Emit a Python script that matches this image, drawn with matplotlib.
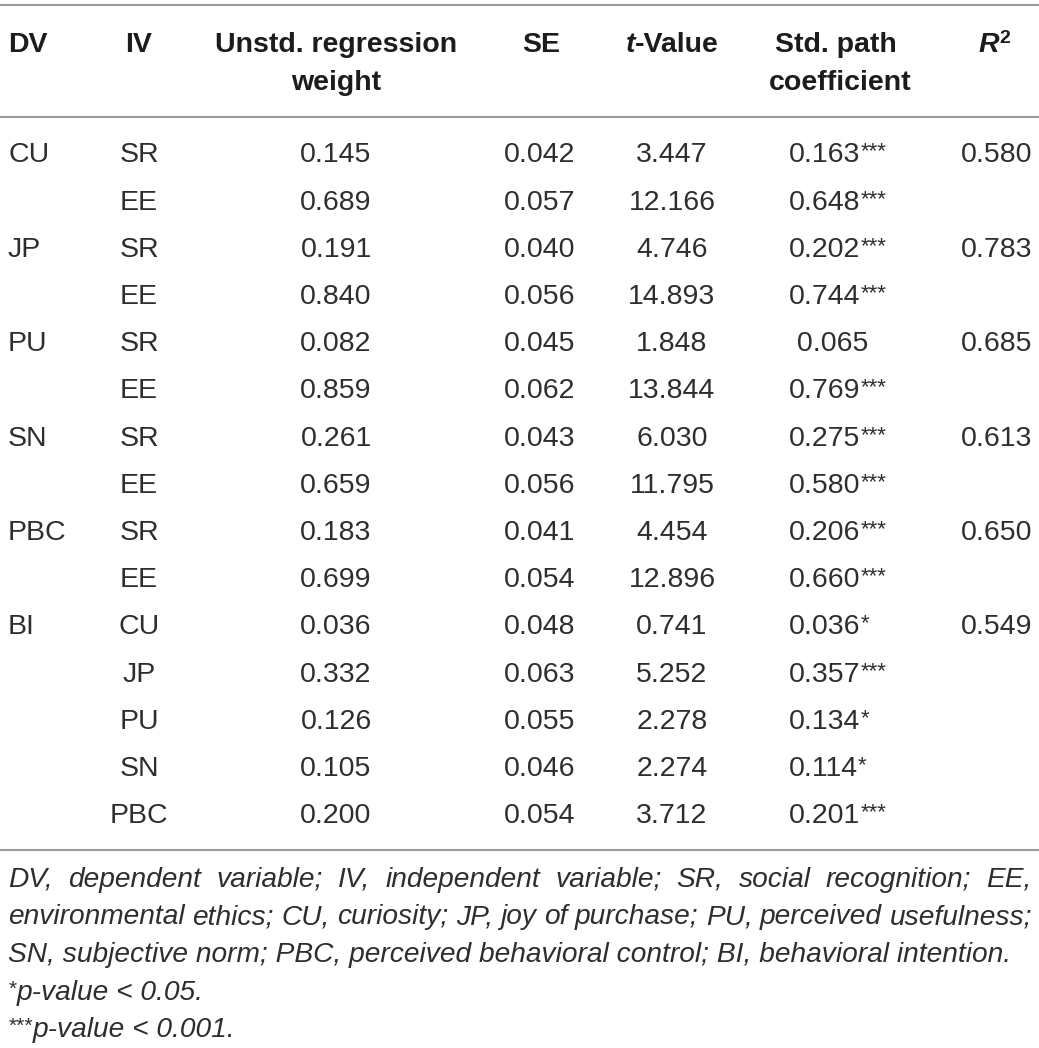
import matplotlib
matplotlib.use("Agg")
import matplotlib.pyplot as plt

# ---------------- data ----------------
dv_labels = ["CU", "", "JP", "", "PU", "", "SN", "", "PBC", "", "BI", "", "", "", ""]
iv_labels = ["SR", "EE", "SR", "EE", "SR", "EE", "SR", "EE", "SR", "EE",
             "CU", "JP", "PU", "SN", "PBC"]
unstd_weight = [0.145, 0.689, 0.191, 0.840, 0.082, 0.859, 0.261, 0.659, 0.183, 0.699,
                0.036, 0.332, 0.126, 0.105, 0.200]
se_values = [0.042, 0.057, 0.040, 0.056, 0.045, 0.062, 0.043, 0.056, 0.041, 0.054,
             0.048, 0.063, 0.055, 0.046, 0.054]
t_values = [3.447, 12.166, 4.746, 14.893, 1.848, 13.844, 6.030, 11.795, 4.454, 12.896,
            0.741, 5.252, 2.278, 2.274, 3.712]
std_path = [0.163, 0.648, 0.202, 0.744, 0.065, 0.769, 0.275, 0.580, 0.206, 0.660,
            0.036, 0.357, 0.134, 0.114, 0.201]
significance = ["***", "***", "***", "***", "", "***", "***", "***", "***", "***",
                "*", "***", "*", "*", "***"]
r_squared = [0.580, None, 0.783, None, 0.685, None, 0.613, None, 0.650, None,
             0.549, None, None, None, None]

footnote_justified = [
    "DV, dependent variable; IV, independent variable; SR, social recognition; EE,",
    "environmental ethics; CU, curiosity; JP, joy of purchase; PU, perceived usefulness;",
]
footnote_last = "SN, subjective norm; PBC, perceived behavioral control; BI, behavioral intention."
sig_notes = [("*", "p-value < 0.05."), ("***", "p-value < 0.001.")]

# ---------------- layout ----------------
W, H = 1039, 1048
fig = plt.figure(figsize=(W / 100, H / 100), dpi=100)
ax = fig.add_axes([0, 0, 1, 1])
ax.set_xlim(0, W)
ax.set_ylim(H, 0)
ax.axis("off")
renderer = fig.canvas.get_renderer()

FONT = "Liberation Sans"
FS = 20.5
HEAD_C = "#1c1c1c"
BODY_C = "#2e2e2e"
RULE_C = "#9a9a9a"

def txt(x, y, s, ha="left", size=FS, weight="normal", style="normal", color=BODY_C):
    return ax.text(x, y, s, ha=ha, va="baseline", fontsize=size, fontweight=weight,
                   fontstyle=style, color=color, family=FONT)

def width_of(t):
    return t.get_window_extent(renderer).width

def rich(x, y, pieces, ha="center"):
    """pieces: list of (string, kwargs, dy)"""
    objs = []
    for s, kw, dy in pieces:
        t = txt(0, y + dy, s, **kw)
        objs.append((t, width_of(t), dy))
    total = sum(w for _, w, _ in objs)
    if ha == "center":
        cx = x - total / 2
    elif ha == "right":
        cx = x - total
    else:
        cx = x
    for t, w, dy in objs:
        t.set_x(cx)
        cx += w
    return objs

# rules
for yy in (5, 117, 850):
    ax.plot([0, W], [yy, yy], color=RULE_C, lw=1.5, solid_capstyle="butt")

# header
hb = dict(weight="bold", color=HEAD_C)
hb_i = dict(weight="bold", style="italic", color=HEAD_C)
y1, y2 = 52, 90
txt(8, y1, "DV", **hb)
txt(139, y1, "IV", ha="center", **hb)
txt(336, y1, "Unstd. regression", ha="center", **hb)
txt(336, y2, "weight", ha="center", **hb)
txt(541, y1, "SE", ha="center", **hb)
rich(672, y1, [("t", hb_i, 0), ("-Value", hb, 0)])
txt(836, y1, "Std. path", ha="center", **hb)
txt(840, y2, "coefficient", ha="center", **hb)
rich(994, y1, [("R", hb_i, 0), ("2", dict(weight="bold", color=HEAD_C, size=14), -9)])

# body
row0, dy_row = 162.5, 47.2
x_dv, x_iv, x_un, x_se, x_t, x_std, x_r2 = 8, 139, 336, 540, 672, 789, 997
for i in range(len(iv_labels)):
    y = row0 + i * dy_row
    if dv_labels[i]:
        txt(x_dv, y, dv_labels[i])
    txt(x_iv, y, iv_labels[i], ha="center")
    txt(x_un, y, f"{unstd_weight[i]:.3f}", ha="center")
    txt(x_se, y, f"{se_values[i]:.3f}", ha="center")
    txt(x_t, y, f"{t_values[i]:.3f}", ha="center")
    num = f"{std_path[i]:.3f}"
    if significance[i]:
        rich(x_std, y, [(num, {}, 0), (significance[i], dict(size=16), -5)], ha="left")
    else:
        rich(x_std, y, [(" " + num, {}, 0)], ha="left")
    if r_squared[i] is not None:
        txt(x_r2, y, f"{r_squared[i]:.3f}", ha="center")

# footnote
fy0, fdy = 887, 37.5
xl, xr = 8, 1032
# size the footnote so that the un-justified third line spans to x~1012
probe = txt(0, -100, footnote_last, size=17, style="italic")
FN = 17 * (1012 - xl) / width_of(probe)
probe.remove()
fn_kw = dict(size=FN, style="italic", color=BODY_C)
for k, line in enumerate(footnote_justified):
    y = fy0 + k * fdy
    words = line.split(" ")
    objs = [txt(0, y, w, **fn_kw) for w in words]
    ws = [width_of(o) for o in objs]
    gap = (xr - xl - sum(ws)) / (len(words) - 1)
    cx = xl
    for o, w in zip(objs, ws):
        o.set_x(cx)
        cx += w + gap
txt(xl, fy0 + 2 * fdy, footnote_last, **fn_kw)
for k, (stars, note) in enumerate(sig_notes):
    y = fy0 + (3 + k) * fdy
    rich(xl, y, [(stars, dict(size=FN * 0.75, style="italic", color=BODY_C), -5),
                 (note, fn_kw, 0)], ha="left")

fig.savefig("out.png", dpi=100, facecolor="white")
